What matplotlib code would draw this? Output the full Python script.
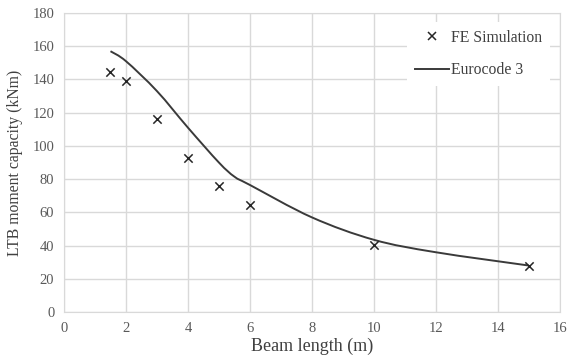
import matplotlib
matplotlib.use("Agg")
import matplotlib.pyplot as plt
from matplotlib.path import Path
from matplotlib.patches import PathPatch
from matplotlib.lines import Line2D
import numpy as np

# beam lengths (m) and LTB moment capacities (kNm)
fe_length = [1.5, 2, 3, 4, 5, 6, 10, 15]
fe_moment = [144.5, 139, 116.5, 93, 76, 64.5, 40.2, 28]

ec3_length = [1.5, 2, 3, 4, 5, 5.5, 6, 8, 10, 12, 15]
ec3_moment = [157, 151, 133, 111, 90, 81.5, 76.5, 57, 43.5, 36, 28]

x_ticks = [0, 2, 4, 6, 8, 10, 12, 14, 16]
y_ticks = [0, 20, 40, 60, 80, 100, 120, 140, 160, 180]

plt.rcParams["font.family"] = ["Liberation Serif", "DejaVu Serif"]

fig = plt.figure(figsize=(5.7, 3.62), dpi=100)
ax = fig.add_axes([0.1123, 0.138, 0.8697, 0.826])


def smooth_path(xs, ys):
    # excel-style smoothed line: cubic bezier segments through each point
    pts = np.column_stack([xs, ys]).astype(float)
    n = len(pts)
    verts = [pts[0]]
    codes = [Path.MOVETO]
    for i in range(n - 1):
        p0 = pts[i - 1] if i > 0 else pts[i]
        p1 = pts[i]
        p2 = pts[i + 1]
        p3 = pts[i + 2] if i + 2 < n else pts[i + 1]
        c1 = p1 + (p2 - p0) / 6.0
        c2 = p2 - (p3 - p1) / 6.0
        verts += [c1, c2, p2]
        codes += [Path.CURVE4] * 3
    return Path(verts, codes)


line_col = "#3a3a3a"
ax.add_patch(PathPatch(smooth_path(ec3_length, ec3_moment), facecolor="none",
                       edgecolor=line_col, linewidth=1.4, zorder=3))
ax.scatter(fe_length, fe_moment, marker="x", s=36, color="#262626",
           linewidths=1.1, zorder=4)

ax.set_xlim(0, 16)
ax.set_ylim(0, 180)
ax.set_xticks(x_ticks)
ax.set_yticks(y_ticks)
ax.grid(True, color="#d9d9d9", linewidth=1.0)
ax.set_axisbelow(True)
for sp in ax.spines.values():
    sp.set_color("#d9d9d9")
ax.tick_params(length=0, labelsize=10.5, labelcolor="#595959", pad=7)

ax.set_xlabel("Beam length (m)", fontsize=13, color="#404040", labelpad=2)
ax.set_ylabel("LTB moment capacity (kNm)", fontsize=11.3, color="#404040", labelpad=7)

handles = [
    Line2D([], [], linestyle="none", marker="x", markersize=5.5, color="#262626",
           markeredgewidth=1.1),
    Line2D([], [], color=line_col, linewidth=1.4),
]
leg = ax.legend(handles, ["FE Simulation", "Eurocode 3"], loc="upper right",
                bbox_to_anchor=(0.98, 0.97), frameon=True, fancybox=False,
                edgecolor="none", facecolor="white", framealpha=1.0,
                fontsize=11.3, handlelength=2.2, handletextpad=0.1,
                labelspacing=1.05, borderpad=0.5, borderaxespad=0.0)
for t in leg.get_texts():
    t.set_color("#404040")

fig.savefig("out.png", dpi=100)
